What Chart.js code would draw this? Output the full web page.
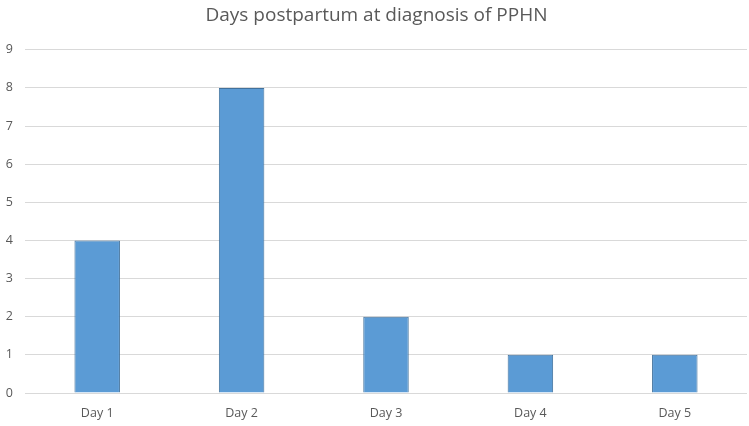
<!DOCTYPE html>
<html>
<head>
<meta charset="utf-8">
<script src="https://cdn.jsdelivr.net/npm/chart.js@4/dist/chart.umd.min.js"></script>
<style>
  html, body { margin: 0; padding: 0; background: #fff; }
</style>
</head>
<body>
<canvas id="chart" width="749" height="426"></canvas>
<script>
// data
const days = ["Day 1", "Day 2", "Day 3", "Day 4", "Day 5"];
const counts = [4, 8, 2, 1, 1];

const place = document.getElementById("chart");
const chart = new Chart(place, {
  type: "bar",
  data: {
    labels: days,
    datasets: [
      {
        label: "Cases",
        data: counts,
        backgroundColor: "#5b9bd5",
        borderColor: "#41719c",
        borderWidth: 1,
        categoryPercentage: 1,
        barPercentage: 0.315,
      },
    ],
  },
  options: {
    responsive: false,
    animation: false,
    layout: { padding: { left: 6, right: 2, top: 0, bottom: 6 } },
    plugins: {
      legend: { display: false },
      tooltip: { enabled: false },
      title: {
        display: true,
        text: "Days postpartum at diagnosis of PPHN",
        color: "#595959",
        font: { family: "'Open Sans', sans-serif", size: 19, weight: "normal" },
        padding: { top: 4, bottom: 23 },
      },
    },
    scales: {
      x: {
        grid: { display: false, drawTicks: false },
        border: { display: false },
        afterFit: (s) => { s.height = 27; },
        ticks: {
          color: "#595959",
          padding: 13,
          font: { family: "'Open Sans', sans-serif", size: 12.5 },
        },
      },
      y: {
        min: 0,
        max: 9,
        afterFit: (s) => { s.width = 19; },
        ticks: {
          stepSize: 1,
          color: "#595959",
          padding: 12,
          font: { family: "'Open Sans', sans-serif", size: 12.5 },
        },
        grid: { color: "#d9d9d9", drawTicks: false },
        border: { display: false },
      },
    },
  },
});
</script>
</body>
</html>
